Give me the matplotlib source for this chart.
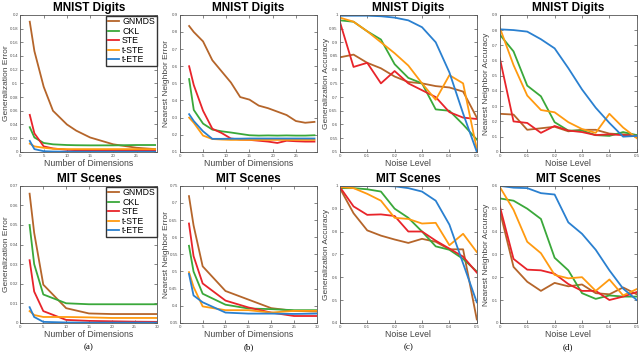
import numpy as np
import matplotlib
matplotlib.use("Agg")
import matplotlib.pyplot as plt

plt.rcParams['font.family'] = ['Liberation Sans', 'DejaVu Sans']

methods = ["GNMDS", "CKL", "STE", "t-STE", "t-ETE"]
colors = ["#b5652a", "#3aa83a", "#e8242a", "#ff9a10", "#2a80d0"]

# --- MNIST: generalization error vs dimensions ---
mn_dims = [2, 3, 5, 7, 10, 12, 15, 20, 25, 29]
mn_gen_err = {
    "GNMDS": [0.19, 0.147, 0.095, 0.06, 0.04, 0.031, 0.021, 0.011, 0.006, 0.004],
    "CKL":   [0.036, 0.021, 0.013, 0.011, 0.010, 0.0097, 0.0095, 0.0095, 0.010, 0.010],
    "STE":   [0.054, 0.027, 0.008, 0.005, 0.003, 0.0025, 0.002, 0.002, 0.002, 0.002],
    "t-STE": [0.012, 0.008, 0.006, 0.0045, 0.004, 0.004, 0.004, 0.004, 0.004, 0.004],
    "t-ETE": [0.016, 0.004, 0.001, 0.0005, 0.0003, 0.0003, 0.0002, 0.0002, 0.0002, 0.0002],
}

# --- MNIST: nearest neighbor error vs dimensions ---
mn_dims_nn = [2, 3, 5, 7, 9, 11, 13, 15, 17, 19, 21, 23, 25, 27, 29]
mn_nn_err = {
    "GNMDS": [0.835, 0.80, 0.745, 0.635, 0.57, 0.505, 0.42, 0.405, 0.37, 0.355, 0.335, 0.315, 0.28, 0.27, 0.275],
    "CKL":   [0.525, 0.345, 0.265, 0.23, 0.22, 0.213, 0.205, 0.197, 0.195, 0.196, 0.195, 0.196, 0.195, 0.195, 0.197],
    "STE":   [0.60, 0.49, 0.34, 0.235, 0.21, 0.178, 0.172, 0.170, 0.165, 0.160, 0.152, 0.165, 0.162, 0.160, 0.160],
    "t-STE": [0.30, 0.27, 0.195, 0.175, 0.172, 0.170, 0.170, 0.170, 0.170, 0.170, 0.170, 0.170, 0.170, 0.170, 0.170],
    "t-ETE": [0.32, 0.28, 0.22, 0.176, 0.176, 0.177, 0.177, 0.178, 0.178, 0.178, 0.178, 0.178, 0.178, 0.178, 0.178],
}

noise = [0, 0.05, 0.1, 0.15, 0.2, 0.25, 0.3, 0.35, 0.4, 0.45, 0.5]

# --- MNIST: generalization accuracy vs noise ---
mn_gen_acc = {
    "GNMDS": [0.845, 0.855, 0.825, 0.805, 0.775, 0.755, 0.75, 0.74, 0.735, 0.72, 0.625],
    "CKL":   [0.98, 0.975, 0.94, 0.91, 0.82, 0.77, 0.75, 0.655, 0.65, 0.60, 0.545],
    "STE":   [0.975, 0.81, 0.825, 0.75, 0.795, 0.75, 0.725, 0.70, 0.645, 0.625, 0.62],
    "t-STE": [0.99, 0.975, 0.94, 0.90, 0.86, 0.815, 0.75, 0.69, 0.78, 0.75, 0.51],
    "t-ETE": [0.997, 0.997, 0.997, 0.995, 0.99, 0.98, 0.955, 0.90, 0.79, 0.64, 0.50],
}

# --- MNIST: nearest neighbor accuracy vs noise ---
mn_nn_acc = {
    "GNMDS": [0.25, 0.245, 0.145, 0.155, 0.165, 0.135, 0.145, 0.145, 0.12, 0.115, 0.11],
    "CKL":   [0.77, 0.66, 0.435, 0.365, 0.195, 0.14, 0.14, 0.11, 0.105, 0.13, 0.11],
    "STE":   [0.615, 0.20, 0.19, 0.125, 0.17, 0.14, 0.13, 0.11, 0.115, 0.11, 0.105],
    "t-STE": [0.815, 0.57, 0.37, 0.275, 0.26, 0.195, 0.15, 0.125, 0.25, 0.16, 0.09],
    "t-ETE": [0.805, 0.80, 0.79, 0.74, 0.68, 0.55, 0.41, 0.29, 0.19, 0.10, 0.105],
}

# --- MIT scenes: vs dimensions ---
mit_dims = [2, 3, 5, 10, 15, 20, 25, 30]
mit_gen_err = {
    "GNMDS": [0.066, 0.046, 0.0195, 0.0075, 0.0048, 0.0045, 0.0045, 0.0045],
    "CKL":   [0.050, 0.030, 0.0145, 0.010, 0.0095, 0.0095, 0.0095, 0.0095],
    "STE":   [0.032, 0.016, 0.006, 0.0015, 0.001, 0.0008, 0.0006, 0.0005],
    "t-STE": [0.006, 0.004, 0.003, 0.003, 0.0028, 0.0025, 0.0025, 0.0025],
    "t-ETE": [0.008, 0.003, 0.0005, 0.0002, 0.0001, 0.0001, 0.0001, 0.0001],
}
mit_nn_err = {
    "GNMDS": [0.72, 0.635, 0.515, 0.443, 0.418, 0.393, 0.385, 0.383],
    "CKL":   [0.575, 0.50, 0.435, 0.403, 0.392, 0.390, 0.387, 0.387],
    "STE":   [0.64, 0.545, 0.465, 0.415, 0.395, 0.380, 0.370, 0.370],
    "t-STE": [0.498, 0.455, 0.398, 0.387, 0.387, 0.380, 0.385, 0.385],
    "t-ETE": [0.493, 0.43, 0.41, 0.38, 0.377, 0.377, 0.376, 0.377],
}

# --- MIT scenes: vs noise ---
mit_gen_acc = {
    "GNMDS": [0.99, 0.88, 0.805, 0.782, 0.765, 0.75, 0.768, 0.755, 0.722, 0.722, 0.415],
    "CKL":   [0.99, 0.99, 0.985, 0.975, 0.90, 0.86, 0.80, 0.735, 0.72, 0.68, 0.625],
    "STE":   [0.995, 0.91, 0.873, 0.875, 0.868, 0.80, 0.80, 0.76, 0.725, 0.69, 0.62],
    "t-STE": [0.995, 0.99, 0.965, 0.935, 0.86, 0.855, 0.835, 0.838, 0.74, 0.79, 0.71],
    "t-ETE": [1.0, 1.0, 1.0, 1.0, 0.998, 0.99, 0.975, 0.935, 0.83, 0.66, 0.49],
}
mit_nn_acc = {
    "GNMDS": [0.49, 0.245, 0.18, 0.14, 0.175, 0.16, 0.168, 0.13, 0.125, 0.155, 0.125],
    "CKL":   [0.545, 0.535, 0.50, 0.455, 0.285, 0.23, 0.13, 0.105, 0.12, 0.115, 0.115],
    "STE":   [0.51, 0.28, 0.233, 0.23, 0.215, 0.17, 0.14, 0.14, 0.10, 0.115, 0.135],
    "t-STE": [0.595, 0.495, 0.355, 0.305, 0.21, 0.195, 0.20, 0.14, 0.19, 0.12, 0.148],
    "t-ETE": [0.60, 0.592, 0.59, 0.568, 0.562, 0.44, 0.39, 0.32, 0.23, 0.15, 0.10],
}

fig = plt.figure(figsize=(6.4, 3.54), dpi=100)

lefts = [0.032, 0.281, 0.531, 0.781]
w = 0.214
bottoms = [0.571, 0.088]
h = 0.387

panels = [
    # row, col, title, x, data, xlabel, ylabel, xlim, ylim, yticks
    (0, 0, "MNIST Digits", mn_dims, mn_gen_err, "Number of Dimensions", "Generalization Error",
     (0, 29.5), (0, 0.2), np.arange(0, 0.201, 0.02)),
    (0, 1, "MNIST Digits", mn_dims_nn, mn_nn_err, "Number of Dimensions", "Nearest Neighbor Error",
     (0, 29.5), (0.1, 0.9), np.arange(0.1, 0.901, 0.1)),
    (0, 2, "MNIST Digits", noise, mn_gen_acc, "Noise Level", "Generalization Accuracy",
     (0, 0.5), (0.5, 1.0), np.arange(0.5, 1.001, 0.05)),
    (0, 3, "MNIST Digits", noise, mn_nn_acc, "Noise Level", "Nearest Neighbor Accuracy",
     (0, 0.5), (0, 0.9), np.arange(0, 0.901, 0.1)),
    (1, 0, "MIT Scenes", mit_dims, mit_gen_err, "Number of Dimensions", "Generalization Error",
     (0, 30), (0, 0.07), np.arange(0, 0.0701, 0.01)),
    (1, 1, "MIT Scenes", mit_dims, mit_nn_err, "Number of Dimensions", "Nearest Neighbor Error",
     (0, 30), (0.35, 0.75), np.arange(0.35, 0.751, 0.05)),
    (1, 2, "MIT Scenes", noise, mit_gen_acc, "Noise Level", "Generalization Accuracy",
     (0, 0.5), (0.4, 1.0), np.arange(0.4, 1.001, 0.1)),
    (1, 3, "MIT Scenes", noise, mit_nn_acc, "Noise Level", "Nearest Neighbor Accuracy",
     (0, 0.5), (0, 0.6), np.arange(0, 0.601, 0.1)),
]

captions = ["(a)", "(b)", "(c)", "(d)"]

for row, col, title, xs, data, xlab, ylab, xlim, ylim, yt in panels:
    ax = fig.add_axes([lefts[col], bottoms[row], w, h])
    for m, c in zip(methods, colors):
        ax.plot(xs, data[m], color=c, lw=1.3, label=m)
    ax.set_xlim(*xlim)
    ax.set_ylim(*ylim)
    ax.set_yticks(yt)
    ax.set_yticklabels(["%g" % round(v, 3) for v in yt])
    if xlim[1] < 1:
        xt = np.arange(0, 0.501, 0.1)
    else:
        xt = np.arange(0, xlim[1] + 0.01, 5)
    ax.set_xticks(xt)
    ax.set_xticklabels(["%g" % round(v, 2) for v in xt])
    ax.tick_params(direction='in', length=2, width=0.5, labelsize=3.2,
                   colors='#555555', pad=1.5, top=True, right=True)
    for s in ax.spines.values():
        s.set_linewidth(0.6)
        s.set_color('#555555')
    ax.set_title(title, fontsize=8.5, fontweight='bold', pad=3)
    ax.set_xlabel(xlab, fontsize=6.3, color='#444444', labelpad=1)
    ax.set_ylabel(ylab, fontsize=6, color='#444444')
    ax.yaxis.set_label_coords(-0.075, 0.5)
    if col == 0:
        ax.legend(loc='upper right', fontsize=6.3, handlelength=1.3, handletextpad=0.3,
                  borderpad=0.2, labelspacing=0.05, borderaxespad=0.1,
                  fancybox=False, edgecolor='#333333', framealpha=1)
    if row == 1:
        fig.text(lefts[col] + w / 2, 0.008, captions[col], ha='center', va='bottom',
                 fontsize=6.5, family='Liberation Serif')

fig.savefig("out.png", dpi=100)
